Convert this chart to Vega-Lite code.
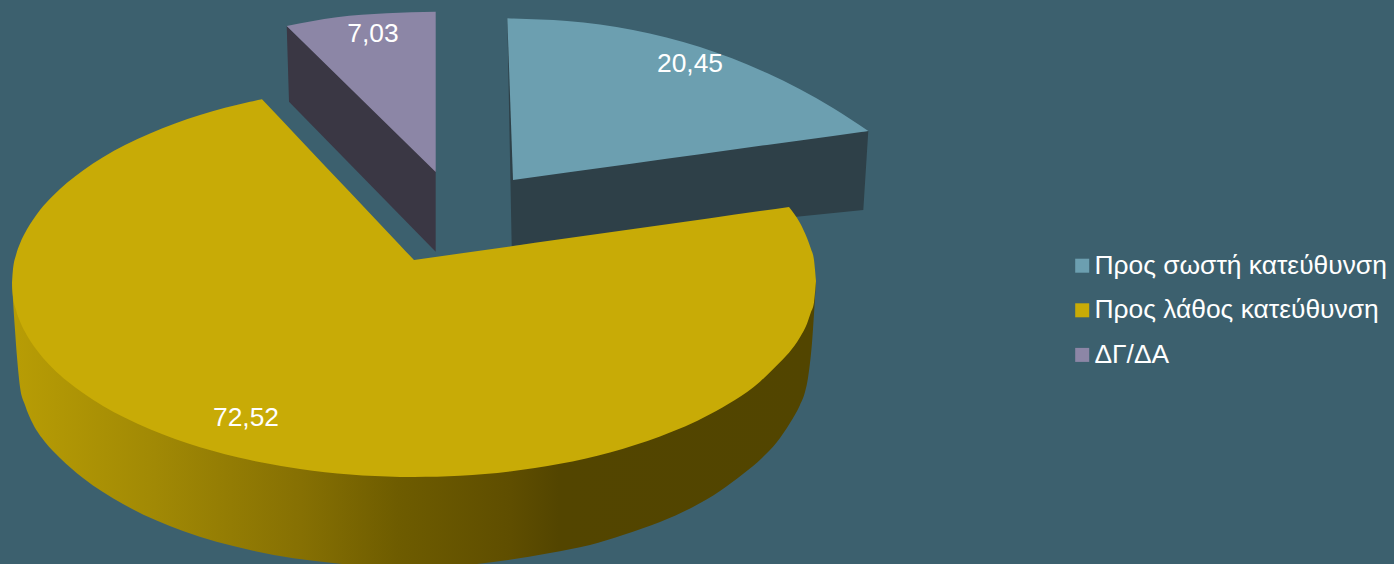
{"$schema":"https://vega.github.io/schema/vega-lite/v6.json","width":1394,"height":564,"padding":0,"autosize":{"type":"none"},"background":"#3c606e","view":{"stroke":null},"config":{"font":"Liberation Sans"},
"datasets":{
"sideTeal":[{"x":507.3,"y":18.3,"y2":18.3},{"x":511.7,"y":18.5,"y2":246},{"x":863.3,"y":132,"y2":210},{"x":868.3,"y":131,"y2":131}],
"sidePurple":[{"x":286.7,"y":26,"y2":26},{"x":289,"y":28,"y2":101.7},{"x":435.7,"y":170,"y2":251.7}],
"topTeal":[{"category":"Προς σωστή κατεύθυνση","part":"a","x":507.3,"y":18.3,"y2":18.3},{"category":"Προς σωστή κατεύθυνση","part":"a","x":513,"y":18.4,"y2":180},{"category":"Προς σωστή κατεύθυνση","part":"b","x":513,"y":18.4,"y2":180},{"category":"Προς σωστή κατεύθυνση","part":"b","x":567,"y":21,"y2":172.5},{"category":"Προς σωστή κατεύθυνση","part":"b","x":633,"y":30,"y2":163.4},{"category":"Προς σωστή κατεύθυνση","part":"b","x":700,"y":47,"y2":154.2},{"category":"Προς σωστή κατεύθυνση","part":"b","x":767,"y":73,"y2":144.9},{"category":"Προς σωστή κατεύθυνση","part":"b","x":833,"y":108,"y2":135.9},{"category":"Προς σωστή κατεύθυνση","part":"b","x":868.3,"y":131,"y2":131}],
"topPurple":[{"category":"ΔΓ/ΔΑ","part":"a","x":286.7,"y":26,"y2":26},{"category":"ΔΓ/ΔΑ","part":"a","x":336.7,"y":17.3,"y2":75},{"category":"ΔΓ/ΔΑ","part":"a","x":386.7,"y":13.3,"y2":124},{"category":"ΔΓ/ΔΑ","part":"a","x":435.7,"y":11.7,"y2":172}],
"sideYellow":[{"x":12,"y":283,"y2":283},{"x":13,"y":285,"y2":300},{"x":15,"y":285,"y2":330},{"x":17,"y":285,"y2":357},{"x":20,"y":285,"y2":387},{"x":25,"y":285,"y2":405},{"x":33,"y":285,"y2":424},{"x":45,"y":285,"y2":442},{"x":60,"y":285,"y2":458},{"x":83,"y":285,"y2":478},{"x":123,"y":285,"y2":504},{"x":183,"y":285,"y2":531},{"x":250,"y":285,"y2":550},{"x":333,"y":285,"y2":563},{"x":414,"y":285,"y2":568},{"x":477,"y":285,"y2":564},{"x":550,"y":285,"y2":553},{"x":590,"y":285,"y2":545},{"x":623,"y":285,"y2":535},{"x":660,"y":285,"y2":522},{"x":693,"y":285,"y2":507},{"x":720,"y":285,"y2":491},{"x":743,"y":285,"y2":474},{"x":762,"y":285,"y2":458},{"x":777,"y":285,"y2":442},{"x":790,"y":285,"y2":423},{"x":800,"y":285,"y2":405},{"x":805,"y":285,"y2":392},{"x":808,"y":285,"y2":378},{"x":812,"y":285,"y2":343},{"x":816,"y":281,"y2":281}],
"topYellow":[
{"category":"Προς λάθος κατεύθυνση","part":"a","x":12,"y":283,"y2":283},{"category":"Προς λάθος κατεύθυνση","part":"a","x":13,"y":269,"y2":296.7},{"category":"Προς λάθος κατεύθυνση","part":"a","x":16,"y":255,"y2":310},{"category":"Προς λάθος κατεύθυνση","part":"a","x":20,"y":243.5,"y2":321.6},{"category":"Προς λάθος κατεύθυνση","part":"a","x":27,"y":229.3,"y2":335.5},{"category":"Προς λάθος κατεύθυνση","part":"a","x":33,"y":219.7,"y2":344.9},{"category":"Προς λάθος κατεύθυνση","part":"a","x":40,"y":210,"y2":354.2},{"category":"Προς λάθος κατεύθυνση","part":"a","x":53,"y":195.7,"y2":368.4},{"category":"Προς λάθος κατεύθυνση","part":"a","x":67,"y":182.8,"y2":381},{"category":"Προς λάθος κατεύθυνση","part":"a","x":83,"y":170.4,"y2":393.1},{"category":"Προς λάθος κατεύθυνση","part":"a","x":103,"y":157.2,"y2":405.9},{"category":"Προς λάθος κατεύθυνση","part":"a","x":125,"y":145,"y2":417.8},{"category":"Προς λάθος κατεύθυνση","part":"a","x":150,"y":133.4,"y2":429.3},{"category":"Προς λάθος κατεύθυνση","part":"a","x":175,"y":123.4,"y2":439},{"category":"Προς λάθος κατεύθυνση","part":"a","x":200,"y":114.9,"y2":447.3},{"category":"Προς λάθος κατεύθυνση","part":"a","x":225,"y":107.8,"y2":454.2},{"category":"Προς λάθος κατεύθυνση","part":"a","x":250,"y":101.8,"y2":460.1},{"category":"Προς λάθος κατεύθυνση","part":"a","x":262,"y":99.2,"y2":462.6},
{"category":"Προς λάθος κατεύθυνση","part":"b","x":262,"y":99.2,"y2":462.6},{"category":"Προς λάθος κατεύθυνση","part":"b","x":300,"y":139.4,"y2":469},{"category":"Προς λάθος κατεύθυνση","part":"b","x":350,"y":192.3,"y2":474.5},{"category":"Προς λάθος κατεύθυνση","part":"b","x":400,"y":245.2,"y2":476.9},{"category":"Προς λάθος κατεύθυνση","part":"b","x":414,"y":260,"y2":477},
{"category":"Προς λάθος κατεύθυνση","part":"c","x":414,"y":260,"y2":477},{"category":"Προς λάθος κατεύθυνση","part":"c","x":460,"y":253.5,"y2":475.7},{"category":"Προς λάθος κατεύθυνση","part":"c","x":510,"y":246.4,"y2":471.4},{"category":"Προς λάθος κατεύθυνση","part":"c","x":560,"y":239.3,"y2":463.8},{"category":"Προς λάθος κατεύθυνση","part":"c","x":610,"y":232.3,"y2":452.4},{"category":"Προς λάθος κατεύθυνση","part":"c","x":660,"y":225.2,"y2":436.5},{"category":"Προς λάθος κατεύθυνση","part":"c","x":710,"y":218.2,"y2":414.3},{"category":"Προς λάθος κατεύθυνση","part":"c","x":760,"y":211.1,"y2":381.7},{"category":"Προς λάθος κατεύθυνση","part":"c","x":789,"y":207,"y2":352.8},
{"category":"Προς λάθος κατεύθυνση","part":"d","x":789,"y":207,"y2":352.8},{"category":"Προς λάθος κατεύθυνση","part":"d","x":800,"y":223,"y2":337.3},{"category":"Προς λάθος κατεύθυνση","part":"d","x":807,"y":238,"y2":323.7},{"category":"Προς λάθος κατεύθυνση","part":"d","x":811,"y":249,"y2":312},{"category":"Προς λάθος κατεύθυνση","part":"d","x":814,"y":260,"y2":302.4},{"category":"Προς λάθος κατεύθυνση","part":"d","x":816,"y":281,"y2":281}],
"labels":[{"category":"Προς σωστή κατεύθυνση","value":20.45,"label":"20,45","x":690,"y":63.7},{"category":"Προς λάθος κατεύθυνση","value":72.52,"label":"72,52","x":246,"y":417.7},{"category":"ΔΓ/ΔΑ","value":7.03,"label":"7,03","x":373,"y":33.7}]
},
"encoding":{
"x":{"field":"x","type":"quantitative","scale":{"domain":[0,1394],"nice":false,"zero":false},"axis":null},
"y":{"field":"y","type":"quantitative","scale":{"domain":[0,564],"reverse":true,"nice":false,"zero":false},"axis":null}
},
"layer":[
{"data":{"name":"sideTeal"},"mark":{"type":"area","fill":"#2e4048","clip":true},"encoding":{"y2":{"field":"y2"}}},
{"data":{"name":"sidePurple"},"mark":{"type":"area","fill":"#3a3744","clip":true},"encoding":{"y2":{"field":"y2"}}},
{"data":{"name":"topTeal"},"mark":{"type":"area","clip":true,"interpolate":"monotone"},"encoding":{"y2":{"field":"y2"},"detail":{"field":"part"},"color":{"field":"category","type":"nominal","scale":{"domain":["Προς σωστή κατεύθυνση","Προς λάθος κατεύθυνση","ΔΓ/ΔΑ"],"range":["#6c9fb0","#c8ab06","#8c86a6"]},"legend":{"title":null,"orient":"none","legendX":1069,"legendY":252.5,"symbolType":"square","symbolSize":196,"symbolStrokeWidth":0,"symbolOpacity":1,"labelFont":"Liberation Sans","labelFontSize":26.4,"labelColor":"#ffffff","labelOffset":-1,"rowPadding":17.6,"labelLimit":400,"padding":0}}}},
{"data":{"name":"topPurple"},"mark":{"type":"area","clip":true,"interpolate":"monotone"},"encoding":{"y2":{"field":"y2"},"detail":{"field":"part"},"color":{"field":"category","type":"nominal"}}},
{"data":{"name":"sideYellow"},"mark":{"type":"area","clip":true,"interpolate":"monotone","fill":{"gradient":"linear","x1":0,"y1":0,"x2":1,"y2":0,"stops":[{"offset":0,"color":"#b89d05"},{"offset":0.17,"color":"#a28a05"},{"offset":0.36,"color":"#867003"},{"offset":0.48,"color":"#6e5c00"},{"offset":0.62,"color":"#5f4e00"},{"offset":0.68,"color":"#534500"},{"offset":1,"color":"#524500"}]}},"encoding":{"y2":{"field":"y2"}}},
{"data":{"name":"topYellow"},"mark":{"type":"area","clip":true,"interpolate":"monotone"},"encoding":{"y2":{"field":"y2"},"detail":{"field":"part"},"color":{"field":"category","type":"nominal"}}},
{"data":{"name":"labels"},"mark":{"type":"text","font":"Liberation Sans","fontSize":26.4,"color":"#ffffff","align":"center","baseline":"middle"},"encoding":{"text":{"field":"label"}}}
]}
